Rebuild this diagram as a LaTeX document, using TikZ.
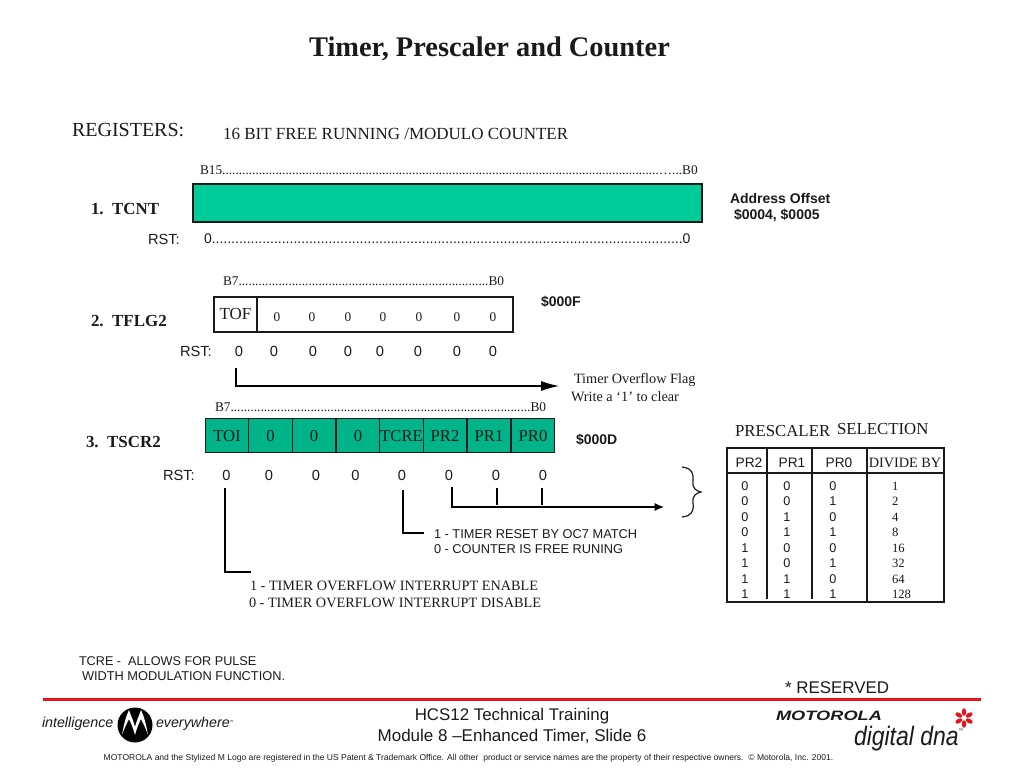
\documentclass[tikz,border=0pt]{standalone}
\usepackage{fontspec}
\setmainfont{Liberation Serif}
\setsansfont{Liberation Sans}
\usetikzlibrary{arrows.meta}
\definecolor{tealA}{HTML}{00CC99}
\definecolor{tealB}{HTML}{00B388}
\definecolor{redline}{HTML}{E8141C}
\definecolor{ink}{HTML}{1A1A1A}
\newcommand{\dten}{..........}
\newcommand{\dfifty}{\dten\dten\dten\dten\dten}
\newcommand{\fz}[1]{\fontsize{#1}{#1}\selectfont}
\tikzset{
  x=0.75pt,y=-0.75pt,
  every node/.style={inner sep=0pt,outer sep=0pt,text=ink},
  lbl/.style={anchor=west},
  ctr/.style={anchor=center},
  serifA/.style={font=\rmfamily\fz{10.7}},
  serifB/.style={font=\rmfamily\fz{10}},
  serifH/.style={font=\rmfamily\bfseries\fz{12.7}},
  sansA/.style={font=\sffamily\fz{11}},
  sansB/.style={font=\sffamily\bfseries\fz{10.5}},
  wire/.style={draw=black,line width=0.85pt},
  flow/.style={wire,-{Latex[length=13.5pt,width=7.5pt]}},
  flowsmall/.style={wire,-{Latex[length=7pt,width=6pt]}},
  boxline/.style={draw=ink,line width=1pt},
  cell/.style={draw=ink,line width=0.9pt,fill=tealB,minimum width=43.75*0.75pt,minimum height=34*0.75pt,text height=8.5pt,text depth=0pt,font=\rmfamily\fz{12.5}},
  tabline/.style={draw=ink,line width=1.1pt},
}
\begin{document}
\begin{tikzpicture}
\useasboundingbox (0,0) rectangle (1024,768);
\node[ctr,font=\rmfamily\bfseries\fz{21.3}] (title) at (489.5,49) {Timer, Prescaler and Counter};
\node[lbl,font=\rmfamily\fz{15}] (registers) at (72,130) {REGISTERS:};
\node[lbl,font=\rmfamily\fz{12.75}] (sixteen) at (223,134) {16 BIT FREE RUNNING /MODULO COUNTER};
% TCNT
\node[lbl,serifB] (b15) at (200,170) {B15\dfifty\dfifty\dten\dten\dten.…...B0};
\node[anchor=north west,draw=ink,line width=1pt,fill=tealA,minimum width=381.75pt,minimum height=28.5pt] (tcntbox) at (193,184) {};
\node[lbl,serifH] (tcnt) at (91,209) {1.\ \ TCNT};
\node[lbl,sansA] (rst1) at (148,239) {RST:};
\node[lbl,font=\sffamily\fz{10.5}] (rstz1) at (204,239) {0\dfifty\dfifty\dten\dten.0};
\node[lbl,sansB] (addr) at (730,198) {Address Offset};
\node[lbl,sansB] (addrv) at (734,215) {\$0004, \$0005};
% TFLG2
\node[lbl,serifB] (b7a) at (223,281) {B7\dfifty\dten\dten.....B0};
\node[anchor=north west,boxline,minimum width=224.25pt,minimum height=26.25pt] (tflgbox) at (214,297) {};
\node[anchor=north west,boxline,minimum width=32.25pt,minimum height=26.25pt,font=\rmfamily\fz{12.7}] (tof) at (214,297) {\raisebox{1.5pt}{TOF}};
\foreach \n/\xx in {1/277,2/312,3/348,4/383,5/419,6/457,7/493}
  \node[ctr,serifB] (fz\n) at (\xx,317) {0};
\node[lbl,serifH] (tflg) at (91,321) {2.\ \ TFLG2};
\node[lbl,sansB] (addrf) at (541,302) {\$000F};
\node[lbl,sansA] (rst2) at (180,351) {RST:};
\foreach \n/\xx in {1/239,2/274,3/313,4/348,5/380,6/418,7/457,8/493}
  \node[ctr,sansA] (ra\n) at (\xx,351) {0};
\coordinate (tofdown) at (236,368);
\coordinate (tofend) at (559,386);
\draw[flow] (tofdown) |- (tofend);
\node[lbl,serifA] (tofa) at (574,380) {Timer Overflow Flag};
\node[lbl,serifA] (tofb) at (571,397) {Write a ‘1’ to clear};
% TSCR2
\node[lbl,serifB] (b7b) at (215,407) {B7\dfifty\dten\dten\dten\dten B0};
\foreach \n/\xx/\t in {1/227/TOI,2/270.5/0,3/314/0,4/358/0,5/401.5/TCRE,6/445/PR2,7/489/PR1,8/533/PR0}
  \node[cell] (c\n) at (\xx,435.5) {\t};
\node[lbl,serifH] (tscr) at (86,442) {3.\ \ TSCR2};
\node[lbl,sansB] (addrd) at (576,440) {\$000D};
\node[lbl,sansA] (rst3) at (163,475) {RST:};
\foreach \n/\xx in {1/226.5,2/269,3/316,4/355.5,5/402,6/449,7/496,8/543}
  \node[ctr,sansA] (rb\n) at (\xx,475) {0};
\coordinate (toia) at (225,488);
\coordinate (toib) at (251,572);
\draw[wire] (toia) |- (toib);
\coordinate (tcrea) at (403,490);
\coordinate (tcreb) at (424,533);
\draw[wire] (tcrea) |- (tcreb);
\coordinate (pra) at (452,487);
\coordinate (prb) at (664,507);
\draw[flowsmall] (pra) |- (prb);
\coordinate (p1a) at (497,488);
\coordinate (p1b) at (497,505);
\coordinate (p0a) at (542,488);
\coordinate (p0b) at (542,505);
\draw[wire] (p1a) -- (p1b);
\draw[wire] (p0a) -- (p0b);
\coordinate (bt) at (682,467);
\coordinate (bm) at (701,492);
\coordinate (bb) at (682,517);
\draw[draw=ink,line width=0.9pt] (bt) .. controls (692,468) and (694,474) .. (693,481) .. controls (692,488) and (696,491) .. (bm) .. controls (696,493) and (692,496) .. (693,503) .. controls (694,511) and (692,516) .. (bb);
\node[lbl,font=\sffamily\fz{9.6}] (oca) at (434,534) {1 - TIMER RESET BY OC7 MATCH};
\node[lbl,font=\sffamily\fz{9.6}] (ocb) at (434,549) {0 - COUNTER IS FREE RUNING};
\node[lbl,serifA] (ena) at (250,586) {1 - TIMER OVERFLOW INTERRUPT ENABLE};
\node[lbl,serifA] (enb) at (249,603) {0 - TIMER OVERFLOW INTERRUPT DISABLE};
% table
\node[lbl,font=\rmfamily\fz{12.6}] (presc) at (735,431) {PRESCALER};
\node[lbl,font=\rmfamily\fz{12.6}] (selec) at (837,429) {SELECTION};
\coordinate (tl) at (727,448);
\coordinate (tr) at (944,448);
\coordinate (bl) at (727,602);
\coordinate (br) at (944,602);
\coordinate (hl) at (727,473);
\coordinate (hr) at (944,473);
\draw[tabline] (tl) rectangle (br);
\draw[tabline] (hl) -- (hr);
\foreach \n/\xx/\yy in {a/767/599,b/812/599,c/867/602} {
  \coordinate (v\n t) at (\xx,448);
  \coordinate (v\n b) at (\xx,\yy);
  \draw[tabline] (v\n t) -- (v\n b);
}
\node[ctr,font=\sffamily\fz{10.3}] (h1) at (749,463) {PR2};
\node[ctr,font=\sffamily\fz{10.3}] (h2) at (792,463) {PR1};
\node[ctr,font=\sffamily\fz{10.3}] (h3) at (839,463) {PR0};
\node[ctr,font=\rmfamily\fz{10.7}] (h4) at (905,463) {DIVIDE BY};
\foreach \n/\yy/\a/\b/\c/\d in {1/486/0/0/0/1,2/501/0/0/1/2,3/517/0/1/0/4,4/532/0/1/1/8,5/548/1/0/0/16,6/563/1/0/1/32,7/579/1/1/0/64,8/594/1/1/1/128} {
  \node[ctr,font=\sffamily\fz{9.5}] (ta\n) at (745,\yy) {\a};
  \node[ctr,font=\sffamily\fz{9.5}] (tb\n) at (787,\yy) {\b};
  \node[ctr,font=\sffamily\fz{9.5}] (tc\n) at (833,\yy) {\c};
  \node[lbl,font=\rmfamily\fz{9.5}] (td\n) at (892,\yy) {\d};
}
% notes
\node[lbl,font=\sffamily\fz{9.5}] (na) at (79,661) {TCRE -\ \ ALLOWS FOR PULSE};
\node[lbl,font=\sffamily\fz{9.6}] (nb) at (82,676) {WIDTH MODULATION FUNCTION.};
\node[lbl,font=\sffamily\fz{12.7}] (res) at (785,688) {* RESERVED};
% footer
\coordinate (ra) at (43,699.5);
\coordinate (rb) at (981,699.5);
\draw[draw=redline,line width=2.6pt] (ra) -- (rb);
\node[ctr,font=\sffamily\fz{12.65}] (f1) at (512,716) {HCS12 Technical Training};
\node[ctr,font=\sffamily\fz{12.75}] (f2) at (512,736.5) {Module 8 –Enhanced Timer, Slide 6};
\node[ctr,font=\sffamily\fz{6.4}] (f3) at (468.5,758) {MOTOROLA and the Stylized M Logo are registered in the US Patent \& Trademark Office. All other\ \ product or service names are the property of their respective owners.\ \ © Motorola, Inc. 2001.};
\node[lbl,font=\sffamily\itshape\fz{10.7}] (li) at (42,724) {intelligence};
\node[lbl,font=\sffamily\itshape\fz{10.7}] (le) at (156,724) {everywhere\raisebox{3pt}{\fz{3}™}};
\fill[black] (135,725) circle[radius=17.5];
\fill[white] (122,735) .. controls (124,724) and (126,716) .. (129,710) .. controls (131,716) and (134,722) .. (135,727) .. controls (136,722) and (139,716) .. (141,710) .. controls (144,716) and (146,724) .. (148,735) .. controls (146,729) and (143,723) .. (141,719) .. controls (138,725) and (136,731) .. (135,735) .. controls (134,731) and (132,725) .. (129,719) .. controls (127,723) and (124,729) .. (122,735) -- cycle;
\node[anchor=west,font=\sffamily\bfseries\itshape\fz{10.2},xscale=1.34,transform shape] (lm) at (776,716) {MOTOROLA};
\node[anchor=west,font=\sffamily\itshape\fz{20},xscale=0.86,transform shape] (ld) at (854,739) {digital dna\raisebox{10pt}{\fz{4}™}};
\foreach \a in {90,30,-30,-90,-150,150}
  \fill[redline,rotate around={\a:(964,718)}] (970,718) ellipse[x radius=3.8,y radius=2.2];
\end{tikzpicture}
\end{document}
